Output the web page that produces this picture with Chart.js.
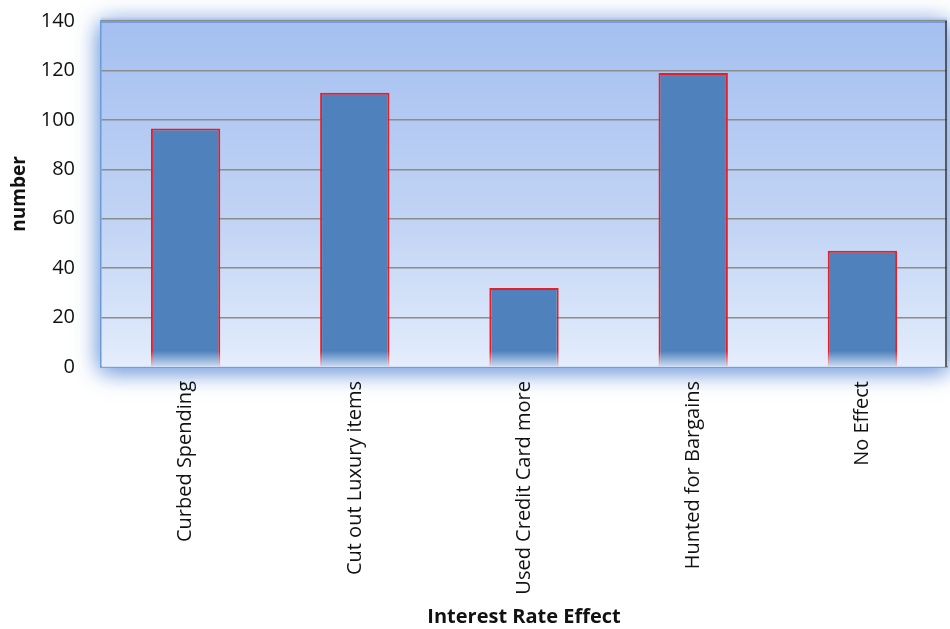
<!DOCTYPE html>
<html>
<head>
<meta charset="utf-8">
<script src="https://cdn.jsdelivr.net/npm/chart.js@4"></script>
<style>
  html, body { margin: 0; padding: 0; background: #fff; }
  #wrap { width: 950px; height: 629px; }
</style>
</head>
<body>
<div id="wrap"><canvas id="grafico" width="950" height="629"></canvas></div>
<script>
const categorias = ["Curbed Spending", "Cut out Luxury items", "Used Credit Card more", "Hunted for Bargains", "No Effect"];
const valores = [96.5, 111, 32, 119, 47];
const tituloX = "Interest Rate Effect";
const tituloY = "number";

// fundo em gradiente com brilho em volta da area do grafico
const fundoPlugin = {
  id: "fundo",
  beforeDraw(chart) {
    const { ctx, chartArea: a } = chart;
    const g = ctx.createLinearGradient(0, a.top, 0, a.bottom);
    g.addColorStop(0, "#a4bff0");
    g.addColorStop(0.6, "#c3d5f5");
    g.addColorStop(1, "#e3ecfb");
    ctx.save();
    ctx.shadowColor = "rgba(120,160,222,0.9)";
    ctx.shadowBlur = 22;
    ctx.shadowOffsetY = 3;
    ctx.fillStyle = g;
    ctx.fillRect(a.left, a.top, a.right - a.left, a.bottom - a.top);
    ctx.fillRect(a.left, a.top, a.right - a.left, a.bottom - a.top);
    ctx.restore();
    // faixa azul no topo
    ctx.save();
    const t = ctx.createLinearGradient(0, a.top - 7, 0, a.top + 2);
    t.addColorStop(0, "rgba(255,255,255,0)");
    t.addColorStop(1, "#6a97da");
    ctx.fillStyle = t;
    ctx.fillRect(a.left, a.top - 7, a.right - a.left, 9);
    ctx.restore();
  },
  afterDatasetsDraw(chart) {
    // reflexo esbranquicado na base das barras
    const { ctx, chartArea: a } = chart;
    ctx.save();
    const g = ctx.createLinearGradient(0, a.bottom - 16, 0, a.bottom);
    g.addColorStop(0, "rgba(230,238,252,0)");
    g.addColorStop(1, "rgba(230,238,252,0.85)");
    ctx.fillStyle = g;
    ctx.fillRect(a.left + 1, a.bottom - 16, a.right - a.left - 1, 16);
    ctx.strokeStyle = "#333";
    ctx.lineWidth = 1.5;
    ctx.beginPath();
    ctx.moveTo(a.right - 1, a.top);
    ctx.lineTo(a.right - 1, a.bottom);
    ctx.stroke();
    ctx.restore();
  }
};

const ctx = document.getElementById("grafico").getContext("2d");
new Chart(ctx, {
  type: "bar",
  data: {
    labels: categorias,
    datasets: [{
      data: valores,
      backgroundColor: "#4f81bd",
      borderColor: "#ec1c24",
      borderWidth: 2,
      borderSkipped: "bottom",
      barPercentage: 0.41,
      categoryPercentage: 1
    }]
  },
  options: {
    responsive: false,
    animation: false,
    layout: { padding: { top: 21, right: 3, left: 4, bottom: 0 } },
    plugins: { legend: { display: false }, tooltip: { enabled: false } },
    scales: {
      x: {
        grid: { display: false, drawTicks: false },
        border: { color: "#6a9ad8", width: 1.5 },
        afterFit(scale) {
          scale.height = 262;
          scale.paddingLeft = 0;
          scale.paddingRight = 0;
        },
        ticks: {
          color: "#111",
          font: { family: "Open Sans", size: 20 },
          minRotation: 90,
          maxRotation: 90,
          padding: 14
        },
        title: {
          display: true,
          text: tituloX,
          color: "#111",
          font: { family: "Open Sans", size: 20, weight: "bold" },
          padding: { top: 0, bottom: 0 }
        }
      },
      y: {
        min: 0,
        max: 140,
        afterFit(scale) {
          scale.width = 97;
          scale.paddingTop = 0;
          scale.paddingBottom = 0;
        },
        ticks: {
          stepSize: 20,
          color: "#111",
          font: { family: "Open Sans", size: 20 },
          padding: 26
        },
        grid: { color: "#8c8c8c", lineWidth: 1.5, drawTicks: false },
        border: { color: "#6a9ad8", width: 1.5 },
        title: {
          display: true,
          text: tituloY,
          color: "#111",
          font: { family: "Open Sans", size: 19, weight: "bold" },
          padding: { top: 4, bottom: 0 }
        }
      }
    }
  },
  plugins: [fundoPlugin]
});
</script>
</body>
</html>
